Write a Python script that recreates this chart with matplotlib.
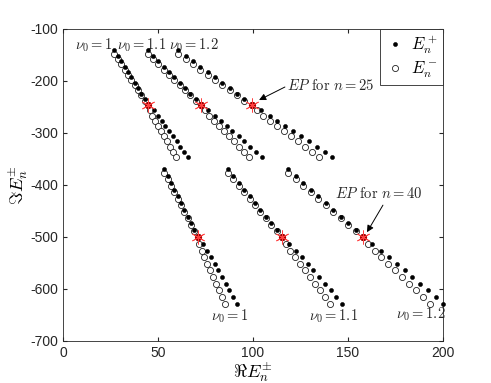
import numpy as np
import matplotlib.pyplot as plt

plt.rcParams['mathtext.fontset'] = 'cm'
plt.rcParams['font.family'] = 'Liberation Sans'

# upper group, n = 15..35 (EP at n = 25)
im_up_plus = [-141.5, -151.7, -162.4, -172.6, -183.3, -193.5, -203.8, -214.6, -224.9, -235.9, -247,
              -257, -267, -277, -287, -297, -306.5, -316.5, -326.5, -336.5, -346]
im_up_minus = [-148.5, -158.3, -168.6, -178.4, -188.7, -198.5, -208.2, -218.4, -228.1, -238.1, -247,
               -257, -267, -277, -287, -297, -306.5, -316.5, -326.5, -336.5, -346]

re_up_plus_10 = [27.0, 28.8, 30.6, 32.4, 34.2, 36.0, 37.7, 39.5, 41.3, 43.1, 44.9,
                 47.7, 49.8, 51.9, 53.9, 55.9, 57.9, 59.8, 61.8, 63.6, 65.6]
re_up_minus_10 = [27.0, 28.8, 30.6, 32.4, 34.2, 36.0, 37.7, 39.5, 41.3, 43.1, 44.9,
                  45.7, 47.0, 48.5, 49.9, 51.5, 53.1, 54.6, 56.2, 57.8, 59.4]
re_up_plus_11 = [44.6, 47.4, 50.2, 53.0, 55.8, 58.6, 61.4, 64.2, 67.0, 69.8, 72.6,
                 76.5, 79.8, 83.0, 86.2, 89.2, 92.4, 95.5, 98.6, 101.5, 104.6]
re_up_minus_11 = [44.6, 47.4, 50.2, 53.0, 55.8, 58.6, 61.4, 64.2, 67.0, 69.8, 72.6,
                  74.5, 76.8, 79.4, 82.0, 84.6, 87.2, 89.9, 92.7, 95.3, 98.0]
re_up_plus_12 = [60.7, 64.6, 68.4, 72.3, 76.1, 80.0, 83.9, 87.7, 91.6, 95.4, 99.3,
                 104.3, 108.7, 112.9, 117.1, 121.3, 125.4, 129.5, 133.6, 137.7, 141.8]
re_up_minus_12 = [60.7, 64.6, 68.4, 72.3, 76.1, 80.0, 83.9, 87.7, 91.6, 95.4, 99.3,
                  102.1, 105.5, 109.1, 112.7, 116.3, 120.0, 123.7, 127.4, 131.1, 134.8]

# lower group, n = 30..50 (EP at n = 40)
im_lo_plus = [-370.3, -383.2, -396.2, -409.0, -422.0, -435.0, -447.9, -461.0, -474.0, -487.3, -501,
              -513.7, -526.4, -539.1, -551.8, -564.5, -577.2, -589.9, -602.6, -615.3, -628]
im_lo_minus = [-376.9, -389.4, -402.1, -414.6, -427.2, -439.6, -452.1, -464.6, -477.0, -489.3, -501,
               -513.7, -526.4, -539.1, -551.8, -564.5, -577.2, -589.9, -602.6, -615.3, -628]

re_lo_plus_10 = [53.3, 55.1, 56.8, 58.6, 60.3, 62.1, 63.9, 65.6, 67.4, 69.1, 70.9,
                 73.6, 75.8, 77.8, 79.8, 81.8, 83.8, 85.7, 87.6, 89.5, 91.4]
re_lo_minus_10 = [53.3, 55.1, 56.8, 58.6, 60.3, 62.1, 63.9, 65.6, 67.4, 69.1, 70.9,
                  71.6, 73.0, 74.4, 76.0, 77.4, 79.0, 80.6, 82.2, 83.7, 85.3]
re_lo_plus_11 = [86.7, 89.6, 92.4, 95.3, 98.2, 101.1, 103.9, 106.8, 109.7, 112.5, 115.4,
                 119.2, 122.4, 125.6, 128.7, 131.7, 134.7, 137.7, 140.8, 143.7, 146.7]
re_lo_minus_11 = [86.7, 89.6, 92.4, 95.3, 98.2, 101.1, 103.9, 106.8, 109.7, 112.5, 115.4,
                  117.2, 119.6, 122.2, 124.7, 127.3, 129.9, 132.5, 135.2, 137.9, 140.5]
re_lo_plus_12 = [118.6, 122.5, 126.5, 130.4, 134.3, 138.3, 142.2, 146.1, 150.0, 154.0, 157.9,
                 162.9, 167.3, 171.4, 175.6, 179.8, 183.9, 188.0, 192.1, 196.1, 200.2]
re_lo_minus_12 = [118.6, 122.5, 126.5, 130.4, 134.3, 138.3, 142.2, 146.1, 150.0, 154.0, 157.9,
                  160.7, 164.1, 167.6, 171.2, 174.8, 178.5, 182.2, 185.9, 189.5, 193.2]

ep_idx = 10

fig = plt.figure(figsize=(4.91, 3.83), dpi=100)
ax = fig.add_axes([0.1283, 0.1097, 0.7739, 0.8153])

sets = [
    (re_up_plus_10, re_up_minus_10, im_up_plus, im_up_minus),
    (re_up_plus_11, re_up_minus_11, im_up_plus, im_up_minus),
    (re_up_plus_12, re_up_minus_12, im_up_plus, im_up_minus),
    (re_lo_plus_10, re_lo_minus_10, im_lo_plus, im_lo_minus),
    (re_lo_plus_11, re_lo_minus_11, im_lo_plus, im_lo_minus),
    (re_lo_plus_12, re_lo_minus_12, im_lo_plus, im_lo_minus),
]

for i, (rp, rm, ip, imn) in enumerate(sets):
    ax.plot(rm, imn, 'o', ms=4.4, mfc='white', mec='#222222', mew=0.6, clip_on=False,
            label=r'$E_n^-$' if i == 0 else None, zorder=3)
    ax.plot(rp, ip, 'o', ms=2.9, mfc='black', mec='black', mew=0.4, clip_on=False,
            label=r'$E_n^+$' if i == 0 else None, zorder=4)
    ax.plot(rp[ep_idx], ip[ep_idx], 'o', ms=4.2, color='#a00000', zorder=5)
    ax.plot(rp[ep_idx], ip[ep_idx], marker=(6, 2, 0), ms=10, mec='#ff4040', mew=0.6, zorder=6)

ax.set_xlim(0, 200)
ax.set_ylim(-700, -100)
ax.set_xticks([0, 50, 100, 150, 200])
ax.set_yticks(range(-700, -99, 100))
ax.tick_params(direction='in', length=3, labelsize=10, colors='#262626', top=True, right=True)
for s in ax.spines.values():
    s.set_color('#262626')
    s.set_linewidth(0.6)
ax.set_xticklabels(['0', '50', '100', '150', '200'])
ax.set_yticklabels([str(v) for v in range(-700, -99, 100)])

ax.set_xlabel(r'$\Re E_n^{\pm}$', fontsize=13, labelpad=0)
ax.set_ylabel(r'$\Im E_n^{\pm}$', fontsize=13, labelpad=0)

tfs = 10.5
tc = '#262626'
ax.text(16.3, -131, r'$\nu_0 = 1$', fontsize=tfs, ha='center', va='center', color=tc)
ax.text(41.6, -131, r'$\nu_0 = 1.1$', fontsize=tfs, ha='center', va='center', color=tc)
ax.text(69, -131, r'$\nu_0 = 1.2$', fontsize=tfs, ha='center', va='center', color=tc)
ax.text(87.6, -652, r'$\nu_0 = 1$', fontsize=tfs, ha='center', va='center', color=tc)
ax.text(142.6, -652, r'$\nu_0 = 1.1$', fontsize=tfs, ha='center', va='center', color=tc)
ax.text(188.4, -648, r'$\nu_0 = 1.2$', fontsize=tfs, ha='center', va='center', color=tc)

arrow = dict(arrowstyle='-|>', color='black', lw=0.7, mutation_scale=10, shrinkA=0, shrinkB=0)
ax.text(118, -210, r'$EP\ \mathrm{for}\ n = 25$', fontsize=tfs, ha='left', va='center', color=tc)
ax.annotate('', xy=(103.2, -237), xytext=(116.8, -212), arrowprops=arrow)
ax.text(143, -416, r'$EP\ \mathrm{for}\ n = 40$', fontsize=tfs, ha='left', va='center', color=tc)
ax.annotate('', xy=(160, -491), xytext=(168.4, -439), arrowprops=arrow)

handles, labels = ax.get_legend_handles_labels()
order = [labels.index(r'$E_n^+$'), labels.index(r'$E_n^-$')]
leg = ax.legend([handles[k] for k in order], [labels[k] for k in order],
                loc='upper right', fontsize=12, fancybox=False, framealpha=1,
                edgecolor='#262626', borderaxespad=0, handlelength=1.2,
                handletextpad=0.4, borderpad=0.3, labelspacing=0.2)
leg.get_frame().set_linewidth(0.6)

fig.savefig('out.png', dpi=100)
